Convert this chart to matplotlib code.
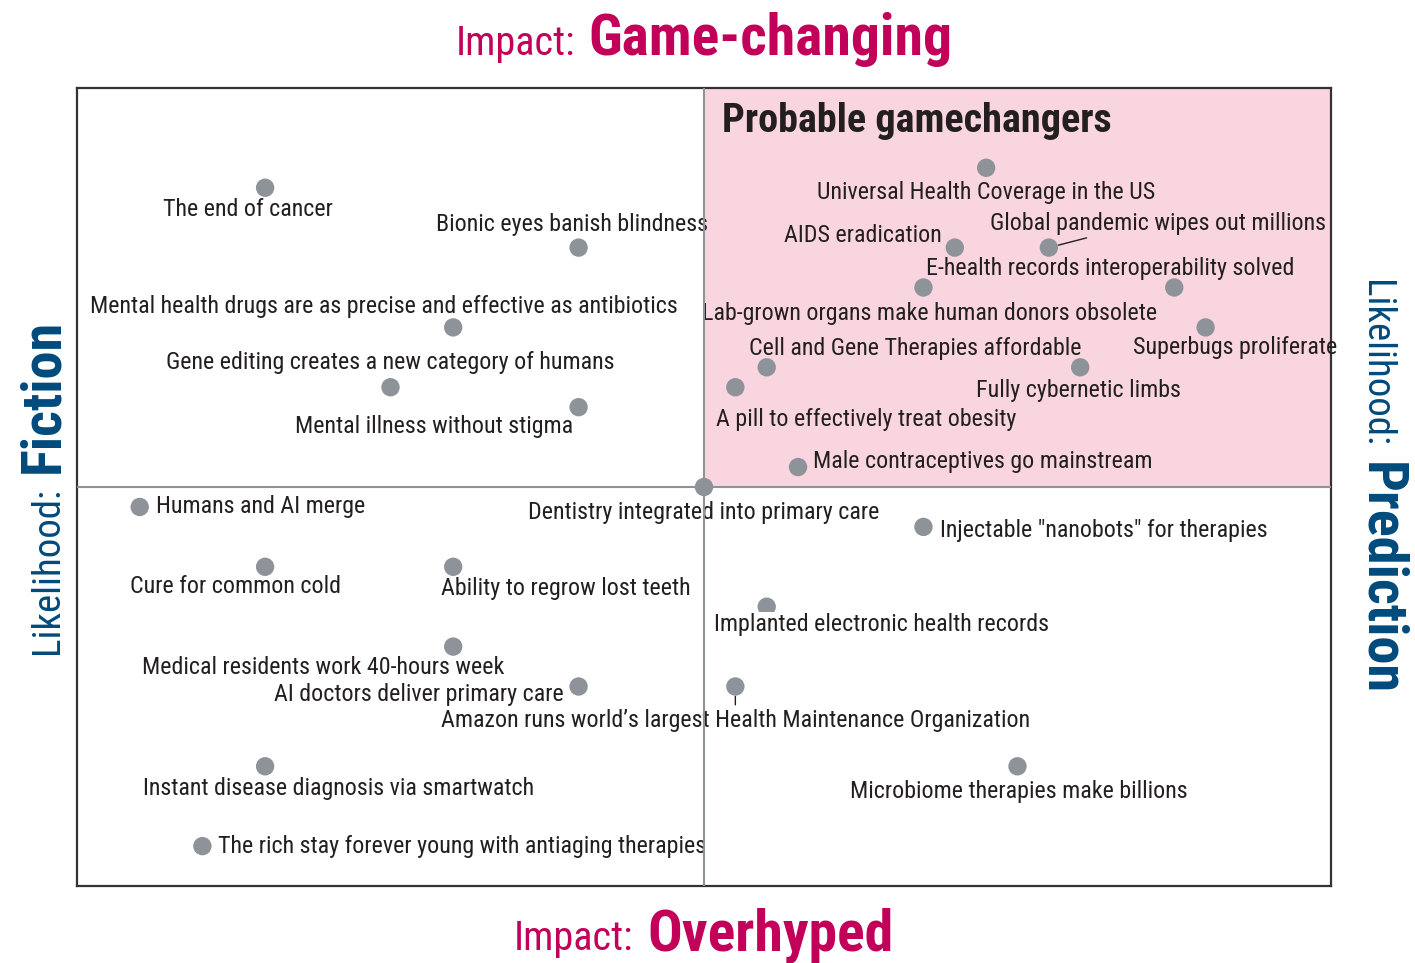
"""
Healthcare futures quadrant: impact (game-changing vs overhyped)
against likelihood (fiction vs prediction).
"""

import matplotlib.pyplot as plt
from matplotlib.patches import Rectangle

plt.rcParams['font.family'] = ['Roboto Condensed', 'DejaVu Sans']

W, H = 1415, 963

MAGENTA = '#C2005A'
BLUE = '#004A7C'
PINK = '#F9D5DF'
GRAY = '#8E9399'
TEXT = '#231F20'

# likelihood: -20 (fiction) .. 20 (prediction); impact: -20 (overhyped) .. 20 (game-changing)
labels = [
    "The end of cancer",
    "Bionic eyes banish blindness",
    "Mental health drugs are as precise and effective as antibiotics",
    "Gene editing creates a new category of humans",
    "Mental illness without stigma",
    "Universal Health Coverage in the US",
    "AIDS eradication",
    "Global pandemic wipes out millions",
    "E-health records interoperability solved",
    "Lab-grown organs make human donors obsolete",
    "Superbugs proliferate",
    "Cell and Gene Therapies affordable",
    "Fully cybernetic limbs",
    "A pill to effectively treat obesity",
    "Male contraceptives go mainstream",
    "Dentistry integrated into primary care",
    "Humans and AI merge",
    "Injectable \"nanobots\" for therapies",
    "Cure for common cold",
    "Ability to regrow lost teeth",
    "Implanted electronic health records",
    "Medical residents work 40-hours week",
    "AI doctors deliver primary care",
    "Amazon runs world\u2019s largest Health Maintenance Organization",
    "Instant disease diagnosis via smartwatch",
    "Microbiome therapies make billions",
    "The rich stay forever young with antiaging therapies",
]
likelihood = [-14, -4, -8, -10, -4, 9, 8, 11, 15, 7, 16, 2, 12, 1, 3, 0,
              -18, 7, -14, -8, 2, -8, -4, 1, -14, 10, -16]
impact = [15, 12, 8, 5, 4, 16, 12, 12, 10, 10, 8, 6, 6, 5, 1, 0,
          -1, -2, -4, -4, -6, -8, -10, -10, -14, -14, -18]

# label placement: offset from the dot in pixels, horizontal alignment
label_pos = [
    (-17, -22, 'center'), (-7, 23, 'center'), (-69, 21, 'center'),
    (0, 25, 'center'), (-5, -19, 'right'), (0, -25, 'center'),
    (-13, 12, 'right'), (109, 24, 'center'), (-64, 19, 'center'),
    (6, -26, 'center'), (30, -20, 'center'), (149, 19, 'center'),
    (-2, -23, 'center'), (131, -32, 'center'), (15, 6, 'left'),
    (0, -26, 'center'), (16, 0, 'left'), (17, -4, 'left'),
    (-30, -20, 'center'), (113, -22, 'center'), (115, -18, 'center'),
    (-130, -21, 'center'), (-15, -8, 'right'), (0, -34, 'center'),
    (73, -22, 'center'), (1, -25, 'center'), (16, 0, 'left'),
]


def fx(px):
    return px / W


def fy(py):
    return 1 - py / H


fig = plt.figure(figsize=(W / 100, H / 100), dpi=100)
ax = fig.add_axes([fx(77), fy(886), (1331 - 77) / W, (886 - 88) / H])
ax.set_xlim(-20, 20)
ax.set_ylim(-20, 20)
ax.set_xticks([])
ax.set_yticks([])
for s in ax.spines.values():
    s.set_color('#333333')
    s.set_linewidth(1.6)

ax.add_patch(Rectangle((0, 0), 20, 20, facecolor=PINK, edgecolor='none', zorder=0))
ax.axhline(0, color=GRAY, lw=1.5, zorder=4)
ax.axvline(0, color=GRAY, lw=1.5, zorder=4)

ax.scatter(likelihood, impact, s=175, color=GRAY, edgecolors='none', zorder=5)

for i, (lab, x, y) in enumerate(zip(labels, likelihood, impact)):
    dx, dy, ha = label_pos[i]
    kw = {}
    z = 3
    if lab.startswith("Implanted"):
        kw['bbox'] = dict(fc='white', ec='none', pad=1)
        z = 6
    if lab.startswith("Global"):
        kw['arrowprops'] = dict(arrowstyle='-', color=TEXT, lw=1, relpos=(0.32, 0),
                                shrinkA=0, shrinkB=7)
    if lab.startswith("Amazon"):
        kw['arrowprops'] = dict(arrowstyle='-', color=TEXT, lw=1, relpos=(0.5, 1),
                                shrinkA=1, shrinkB=7)
    ax.annotate(lab, (x, y), xytext=(dx, dy), textcoords='offset pixels',
                ha=ha, va='center', fontsize=17.3, color=TEXT, zorder=z, **kw)

fig.text(fx(722), fy(132), "Probable gamechangers", fontsize=29, fontweight='bold',
         color=TEXT, ha='left', va='baseline')

# outer axis titles
fig.text(fx(575), fy(55), "Impact:", fontsize=29, color=MAGENTA, ha='right', va='baseline')
fig.text(fx(588), fy(55), "Game-changing", fontsize=41.5, fontweight='bold',
         color=MAGENTA, ha='left', va='baseline')
fig.text(fx(633), fy(950), "Impact:", fontsize=29, color=MAGENTA, ha='right', va='baseline')
fig.text(fx(647), fy(950), "Overhyped", fontsize=41.5, fontweight='bold',
         color=MAGENTA, ha='left', va='baseline')

fig.text(fx(58), fy(487), "Likelihood:", fontsize=28, color=BLUE, rotation=90,
         rotation_mode='anchor', ha='right', va='baseline')
fig.text(fx(58), fy(473), "Fiction", fontsize=40.5, fontweight='bold', color=BLUE,
         rotation=90, rotation_mode='anchor', ha='left', va='baseline')
fig.text(fx(1365), fy(447), "Likelihood:", fontsize=28, color=BLUE, rotation=-90,
         rotation_mode='anchor', ha='right', va='baseline')
fig.text(fx(1365), fy(462), "Prediction", fontsize=40.5, fontweight='bold', color=BLUE,
         rotation=-90, rotation_mode='anchor', ha='left', va='baseline')

fig.savefig('out.png', dpi=100)
